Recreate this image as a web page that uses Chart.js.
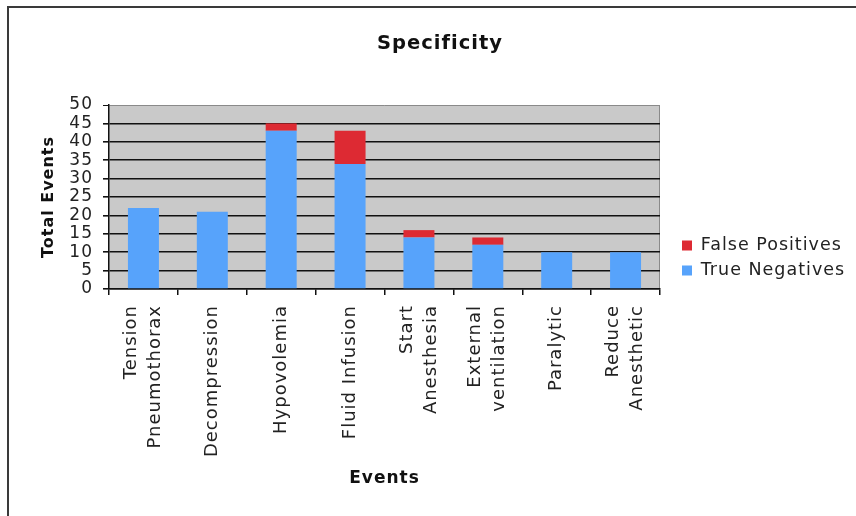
<!DOCTYPE html>
<html>
<head>
<meta charset="utf-8">
<title>Specificity</title>
<script src="https://cdn.jsdelivr.net/npm/chart.js@4"></script>
<style>
  html, body { margin: 0; padding: 0; background: #fff; }
  #wrap { position: relative; width: 856px; height: 516px; }
  #frame {
    position: absolute; left: 7px; top: 6px; right: 0; bottom: 0;
    border-top: 2px solid #3a3a3a; border-left: 2px solid #3a3a3a;
    pointer-events: none;
  }
</style>
</head>
<body>
<div id="wrap">
  <canvas id="chart" width="856" height="516"></canvas>
  <div id="frame"></div>
</div>
<script>
'use strict';

// data
const categories = [
    ['Tension', 'Pneumothorax'],
    'Decompression',
    'Hypovolemia',
    'Fluid Infusion',
    ['Start', 'Anesthesia'],
    ['External', 'ventilation'],
    'Paralytic',
    ['Reduce', 'Anesthetic']
];
const trueNegatives  = [22, 21, 43, 34, 14, 12, 10, 10];
const falsePositives = [ 0,  0,  2,  9,  2,  2,  0,  0];
const yTicks = [0, 5, 10, 15, 20, 25, 30, 35, 40, 45, 50];

(function(){
    const FONT = '"DejaVu Sans", Verdana, sans-serif';
    const SPACING = '1px';
    Chart.defaults.font.family = FONT;
    Chart.defaults.color = '#222';

    // wide letter look of the original
    const spacing = {
        id: 'spacing',
        beforeUpdate: c => { c.ctx.letterSpacing = SPACING; },
        beforeDraw: c => { c.ctx.letterSpacing = SPACING; }
    };

    // grey plot background with a thin right edge
    const plotBg = {
        id: 'plotBg',
        beforeDraw(c) {
            const { ctx, chartArea: a } = c;
            ctx.save();
            ctx.fillStyle = '#c9c9c9';
            ctx.fillRect(a.left, a.top, a.right - a.left, a.bottom - a.top);
            ctx.strokeStyle = '#8a8a8a';
            ctx.lineWidth = 1;
            ctx.beginPath();
            ctx.moveTo(a.right - 0.5, a.top);
            ctx.lineTo(a.right - 0.5, a.bottom);
            ctx.stroke();
            ctx.restore();
        }
    };

    // nudge title and legend to where the original has them
    const placeBoxes = {
        id: 'placeBoxes',
        afterLayout(c) {
            const lg = c.legend;
            lg.left = 674.5; lg.right = 856; lg.width = 181.5;
            const t = c.titleBlock;
            t.left = 24; t.right = 856; t.width = 832;
        }
    };

    // rotated category names, line blocks centred on each bar
    const xLabels = {
        id: 'xLabels',
        afterDraw(c) {
            const { ctx } = c;
            const x = c.scales.x;
            ctx.save();
            ctx.letterSpacing = SPACING;
            ctx.font = '18px ' + FONT;
            ctx.fillStyle = '#222';
            ctx.textAlign = 'right';
            ctx.textBaseline = 'middle';
            categories.forEach((lab, i) => {
                const lines = [].concat(lab);
                const cx = x.getPixelForValue(i);
                lines.forEach((line, j) => {
                    ctx.save();
                    ctx.translate(cx + (j - (lines.length - 1) / 2) * 24, x.top + 16);
                    ctx.rotate(-Math.PI / 2);
                    ctx.fillText(line, 0, 0);
                    ctx.restore();
                });
            });
            ctx.restore();
        }
    };

    new Chart(document.getElementById('chart'), {
        type: 'bar',
        data: {
            labels: categories,
            datasets: [{
                label: 'True Negatives',
                data: trueNegatives,
                backgroundColor: '#57a3fb',
                borderWidth: 0
            }, {
                label: 'False Positives',
                data: falsePositives,
                backgroundColor: '#dd2a33',
                borderWidth: 0
            }]
        },
        options: {
            responsive: false,
            animation: false,
            layout: { padding: { left: 0, right: 46, top: 0, bottom: 0 } },
            datasets: { bar: { categoryPercentage: 1, barPercentage: 0.45 } },
            plugins: {
                title: {
                    display: true,
                    text: 'Specificity',
                    color: '#111',
                    font: { size: 19.5, weight: 'bold' },
                    padding: { top: 32, bottom: 49.6 }
                },
                legend: {
                    position: 'right',
                    reverse: true,
                    maxWidth: 150,
                    labels: {
                        boxWidth: 10,
                        boxHeight: 10,
                        padding: 7.5,
                        color: '#222',
                        font: { size: 17.5 }
                    }
                },
                tooltip: { enabled: false }
            },
            scales: {
                x: {
                    stacked: true,
                    afterFit: s => { s.height = 227; },
                    ticks: { display: false },
                    grid: {
                        offset: true,
                        drawOnChartArea: false,
                        drawTicks: true,
                        tickLength: 6,
                        color: '#111',
                        lineWidth: 1.5
                    },
                    border: { color: '#111', width: 1.5 },
                    title: {
                        display: true,
                        text: 'Events',
                        color: '#111',
                        font: { size: 17, weight: 'bold' },
                        padding: { top: 0, bottom: 27 }
                    }
                },
                y: {
                    stacked: true,
                    min: 0,
                    max: 50,
                    afterFit: s => { s.width = 109; },
                    afterBuildTicks: s => { s.ticks = yTicks.map(v => ({ value: v })); },
                    ticks: {
                        autoSkip: false,
                        padding: 10,
                        color: '#222',
                        font: { size: 17 }
                    },
                    grid: {
                        color: c => c.tick && c.tick.value === 50 ? '#8a8a8a' : '#111',
                        lineWidth: c => c.tick && c.tick.value === 50 ? 1 : 1.6,
                        tickColor: '#111',
                        tickLength: 6
                    },
                    border: { color: '#111', width: 1.5 },
                    title: {
                        display: true,
                        text: 'Total Events',
                        color: '#111',
                        font: { size: 16, weight: 'bold' },
                        padding: { top: 39, bottom: 0 }
                    }
                }
            }
        },
        plugins: [spacing, plotBg, placeBoxes, xLabels]
    });
})();
</script>
</body>
</html>
